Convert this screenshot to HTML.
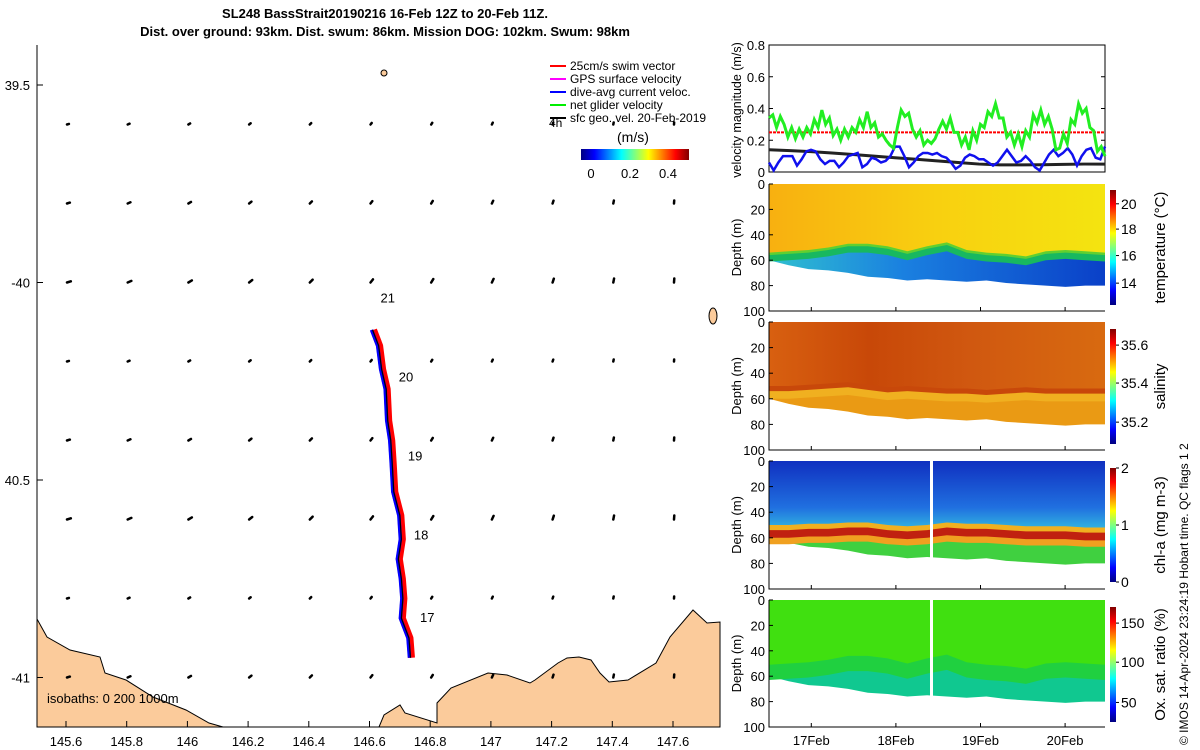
<!DOCTYPE html>
<html><head><meta charset="utf-8">
<style>
body{margin:0;background:#fff;}
svg{display:block;font-family:"Liberation Sans","DejaVu Sans",sans-serif;}
</style></head>
<body>
<svg id="fig" width="1200" height="750" viewBox="0 0 1200 750">
<defs>
<linearGradient id="jetV" x1="0" y1="1" x2="0" y2="0">
<stop offset="0" stop-color="#000080"/><stop offset="0.125" stop-color="#0000ff"/><stop offset="0.375" stop-color="#00ffff"/><stop offset="0.625" stop-color="#ffff00"/><stop offset="0.875" stop-color="#ff0000"/><stop offset="1" stop-color="#800000"/></linearGradient>
<linearGradient id="jetH" x1="0" y1="0" x2="1" y2="0">
<stop offset="0" stop-color="#000080"/><stop offset="0.125" stop-color="#0000ff"/><stop offset="0.375" stop-color="#00ffff"/><stop offset="0.625" stop-color="#ffff00"/><stop offset="0.875" stop-color="#ff0000"/><stop offset="1" stop-color="#800000"/></linearGradient>
<linearGradient id="tempTop" x1="0" y1="0" x2="1" y2="0"><stop offset="0" stop-color="#f8b010"/><stop offset="0.5" stop-color="#f8d010"/><stop offset="1" stop-color="#f4e410"/></linearGradient>
<linearGradient id="tempBot" x1="0" y1="0" x2="1" y2="0"><stop offset="0" stop-color="#30c0d0"/><stop offset="0.4" stop-color="#1a80e0"/><stop offset="1" stop-color="#0a40c8"/></linearGradient>
<linearGradient id="salTop" x1="0" y1="0" x2="1" y2="0"><stop offset="0" stop-color="#d86010"/><stop offset="0.3" stop-color="#c84808"/><stop offset="0.6" stop-color="#d05810"/><stop offset="1" stop-color="#d86a10"/></linearGradient>
<linearGradient id="chlTop" x1="0" y1="0" x2="0" y2="1"><stop offset="0" stop-color="#1030c0"/><stop offset="0.7" stop-color="#2070e0"/><stop offset="1" stop-color="#30b0e0"/></linearGradient>
</defs>
<g id="map"></g>
<g id="right"></g>
<text x="385" y="18" font-size="13" font-weight="bold" text-anchor="middle">SL248 BassStrait20190216 16-Feb 12Z to 20-Feb 11Z.</text>
<text x="385" y="36" font-size="13" font-weight="bold" text-anchor="middle">Dist. over ground: 93km. Dist. swum: 86km. Mission DOG: 102km. Swum: 98km</text>
<text transform="translate(1188,745) rotate(-90)" font-size="12">© IMOS 14-Apr-2024 23:24:19 Hobart time. QC flags 1  2</text>
</svg>
<script>
// ---------- data ----------
const greenVel=[0.34,0.36,0.28,0.35,0.30,0.22,0.28,0.21,0.27,0.22,0.28,0.24,0.33,0.28,0.39,0.30,0.34,0.23,0.27,0.20,0.27,0.22,0.28,0.25,0.33,0.28,0.38,0.28,0.31,0.22,0.24,0.20,0.17,0.15,0.28,0.39,0.35,0.37,0.27,0.22,0.26,0.17,0.20,0.18,0.21,0.27,0.32,0.27,0.34,0.25,0.25,0.17,0.22,0.14,0.26,0.20,0.30,0.28,0.38,0.35,0.43,0.34,0.34,0.22,0.25,0.17,0.24,0.16,0.26,0.22,0.36,0.31,0.39,0.30,0.35,0.27,0.14,0.15,0.24,0.18,0.33,0.30,0.43,0.37,0.40,0.28,0.26,0.13,0.16,0.10];
const blueVel=[0.06,0.01,0.06,0.10,0.10,0.10,0.04,0.08,0.13,0.14,0.13,0.08,0.05,0.07,0.07,0.03,0.06,0.10,0.11,0.12,0.03,0.05,0.09,0.08,0.06,0.07,0.10,0.16,0.16,0.10,0.03,0.06,0.10,0.12,0.12,0.11,0.12,0.10,0.09,0.06,0.02,0.04,0.09,0.11,0.10,0.08,0.08,0.06,0.04,0.06,0.10,0.14,0.10,0.06,0.07,0.10,0.07,0.03,0.01,0.06,0.11,0.14,0.10,0.12,0.15,0.11,0.04,0.10,0.14,0.15,0.09,0.08,0.16];
const geoVel=[0.14,0.135,0.128,0.12,0.11,0.10,0.09,0.08,0.07,0.06,0.05,0.045,0.045,0.046,0.048,0.05,0.05];
const swimVel=0.25;
const velTicks=[0,0.2,0.4,0.6,0.8];
const dayLabels=["17Feb","18Feb","19Feb","20Feb"];
const dayValues=[0.5,1.5,2.5,3.5];
const bottomDepth=[60,64,67,68,70,73,74,76,75,76,77,76,78,79,80,81,80,80];
const thermoDepth=[57,56,55,53,50,50,52,56,52,49,55,57,58,60,56,55,56,57];
const salLayer=[56,56,55,54,53,55,57,56,57,58,58,59,58,57,58,58,58,58];
const chlLayer=[57,57,56,56,55,55,57,58,57,55,56,56,57,58,58,58,59,59];
const depthTicks=[0,20,40,60,80,100];
const lonTicks=[145.6,145.8,146,146.2,146.4,146.6,146.8,147,147.2,147.4,147.6];
const latTicks=[-39.5,-40,-40.5,-41];
const trackLon=[146.61,146.63,146.64,146.655,146.66,146.67,146.675,146.68,146.70,146.705,146.695,146.705,146.71,146.705,146.73,146.735];
const trackLat=[-40.12,-40.16,-40.22,-40.27,-40.35,-40.40,-40.46,-40.53,-40.59,-40.65,-40.70,-40.75,-40.80,-40.85,-40.90,-40.95];
const dayMarkLon=[146.74,146.72,146.7,146.67,146.61];
const dayMarkLat=[-40.86,-40.65,-40.45,-40.25,-40.05];
const dayMarkText=["17","18","19","20","21"];
const vecLon=[145.6,145.8,146,146.2,146.4,146.6,146.8,147,147.2,147.4,147.6];
const vecLat=[-39.6,-39.8,-40,-40.2,-40.4,-40.6,-40.8,-41];

const NS="http://www.w3.org/2000/svg";
function mk(parent,tag,attrs){const e=document.createElementNS(NS,tag);for(const k in attrs)e.setAttribute(k,attrs[k]);parent.appendChild(e);return e;}
function txt(parent,x,y,s,size,anchor,name){const t=mk(parent,'text',{x:x,y:y,'font-size':size,'text-anchor':anchor||'start'});t.textContent=s;


return t;}

// ---------- map ----------
const map=document.getElementById('map');
const lonX=l=>66+(l-145.6)/0.2*60.7;
const latY=l=>85+(-39.5-l)*395;
const land1=[[37,619],[47,637],[70,650],[100,657],[105,673],[126,680],[153,697],[186,710],[209,723],[223,727],[37,727]];
const land2=[[379,727],[384,715],[400,705],[405,713],[437,723],[437,703],[451,688],[488,673],[507,675],[530,683],[535,680],[558,663],[567,658],[579,657],[591,660],[600,673],[609,682],[628,680],[656,663],[670,637],[693,610],[707,623],[720,622],[720,727]];
[land1,land2].forEach((L,i)=>{const p=mk(map,'polygon',{points:L.map(q=>q.join(',')).join(' '),fill:'#fbcb9b',stroke:'#000','stroke-width':1});

});
const isl=mk(map,'ellipse',{cx:713,cy:316,rx:4,ry:8,fill:'#fbcb9b',stroke:'#000','stroke-width':1});


const isl2=mk(map,'ellipse',{cx:384,cy:73,rx:3,ry:3,fill:'#fbcb9b',stroke:'#000','stroke-width':1});


mk(map,'line',{x1:37,y1:45,x2:37,y2:727,stroke:'#000','stroke-width':1});
mk(map,'line',{x1:37,y1:727,x2:720,y2:727,stroke:'#000','stroke-width':1});
lonTicks.forEach(l=>{const x=lonX(l);mk(map,'line',{x1:x,y1:727,x2:x,y2:721,stroke:'#000'});txt(map,x,746,String(l),13,'middle','lon-tick-label');});
latTicks.forEach(l=>{const y=latY(l);mk(map,'line',{x1:37,y1:y,x2:43,y2:y,stroke:'#000'});const s=(l===-39.5||l===-40.5)?String(-l):String(l);txt(map,30,y+5,s,13,'end','lat-tick-label');});
vecLon.forEach((lo,i)=>vecLat.forEach((la,j)=>{const x=lonX(lo)+1,y=latY(la);const len=2+((i*3+j)%3);const ang=-0.3-0.12*i;
const g=mk(map,'line',{x1:x,y1:y,x2:x+len*Math.cos(ang),y2:y+len*Math.sin(ang),stroke:'#000','stroke-width':2.5,'stroke-linecap':'round'});

}));
const tp=trackLon.map((l,i)=>[lonX(l),latY(trackLat[i])]);
const pts=(dx)=>tp.map(p=>(p[0]+dx)+','+p[1]).join(' ');
const tr=mk(map,'polyline',{points:pts(1),fill:'none',stroke:'#ff0000','stroke-width':7,'stroke-linejoin':'round'});


const tb=mk(map,'polyline',{points:pts(-1),fill:'none',stroke:'#0000ff','stroke-width':3.5,'stroke-linejoin':'round'});


const tk=mk(map,'polyline',{points:pts(0),fill:'none',stroke:'#000','stroke-width':1.2});


dayMarkText.forEach((s,i)=>txt(map,lonX(dayMarkLon[i])+8,latY(dayMarkLat[i]),s,13,'start','day-marker'));
txt(map,47,703,'isobaths: 0   200  1000m',13,'start','isobath-note');
const leg=[['#ff0000','25cm/s swim vector'],['#ff00ff','GPS surface velocity'],['#0000ff','dive-avg current veloc.'],['#00ee00','net glider velocity'],['#000000','sfc geo. vel. 20-Feb-2019']];
leg.forEach((e,i)=>{const y=66+i*13;const l=mk(map,'line',{x1:550,y1:y,x2:566,y2:y,stroke:e[0],'stroke-width':2});


txt(map,570,y+4,e[1],12,'start','legend-entry');});
txt(map,549,127,'4h',12,'start','legend-4h');
txt(map,617,142,'(m/s)',14,'start','colorbar-unit');
const cb=mk(map,'rect',{x:581,y:149,width:108,height:11,fill:'url(#jetH)'});


[['0',591],['0.2',630],['0.4',668]].forEach(t=>txt(map,t[1],178,t[0],13,'middle','colorbar-tick'));

// ---------- right panels ----------
const R=document.getElementById('right');
const X0=769,X1=1105;
const dayX=d=>X0+d*84.6;
const VY0=172,VY1=45;
const vy=v=>VY0-(v/0.8)*(VY0-VY1);
mk(R,'rect',{x:X0,y:VY1,width:X1-X0,height:VY0-VY1,fill:'none',stroke:'#000'});
velTicks.forEach(v=>{const y=vy(v);mk(R,'line',{x1:X0,y1:y,x2:X0+4,y2:y,stroke:'#000'});mk(R,'line',{x1:X1,y1:y,x2:X1-4,y2:y,stroke:'#000'});txt(R,X0-4,y+5,String(v),13,'end','velocity-tick');});
const vline=(arr,col,w,name,dash)=>{const p=arr.map((v,i)=>(X0+i*(X1-X0)/(arr.length-1))+','+vy(v)).join(' ');const l=mk(R,'polyline',{points:p,fill:'none',stroke:col,'stroke-width':w});if(dash)l.setAttribute('stroke-dasharray',dash);

};
vline([swimVel,swimVel],'#ff0000',2,'swim-speed-line','3 1');
vline(geoVel,'#222',3,'geo-velocity-line');
vline(blueVel,'#1010ee',2.5,'current-velocity-line');
vline(greenVel,'#22ee22',3,'net-glider-velocity-line');
const vt=txt(R,0,0,'velocity magnitude (m/s)',12.5,'middle','velocity-axis-title');vt.setAttribute('transform','translate(741,110) rotate(-90)');

function depthPanel(top,bot,name,cbTop,cbBot,cbLabel,cbTicks,draw){
  const g=mk(R,'g',{});
  
  
  const dy=d=>top+d/100*(bot-top);
  draw(g,dy);
  mk(g,'polyline',{points:`${X0},${top} ${X0},${bot} ${X1},${bot}`,fill:'none',stroke:'#000'});
  depthTicks.forEach(d=>{const y=dy(d);mk(g,'line',{x1:X0,y1:y,x2:X0+4,y2:y,stroke:'#000'});txt(g,X0-4,y+5,String(d),13,'end','depth-tick');});
  dayValues.forEach(d=>{mk(g,'line',{x1:dayX(d),y1:bot,x2:dayX(d),y2:bot-4,stroke:'#000'});});
  const t=txt(g,0,0,'Depth (m)',13,'middle','depth-axis-title');t.setAttribute('transform',`translate(741,${(top+bot)/2}) rotate(-90)`);
  const c=mk(g,'rect',{x:1110,y:cbTop,width:6,height:cbBot-cbTop,fill:'url(#jetV)'});
  
  
  cbTicks.forEach(t=>{const y=cbBot-t[1]*(cbBot-cbTop);mk(g,'line',{x1:1116,y1:y,x2:1119,y2:y,stroke:'#000'});txt(g,1121,y+5,t[0],14,'start','colorbar-tick');});
  const l=txt(g,0,0,cbLabel,15,'middle','colorbar-label');l.setAttribute('transform',`translate(1165,${(cbTop+cbBot)/2}) rotate(-90)`);
}
const colX=i=>X0+i*(X1-X0)/(bottomDepth.length-1);
function band(g,dy,upper,lower,fill,name){
  const idx=bottomDepth.map((_,i)=>i);
  const up=idx.map(i=>colX(i)+','+dy(upper(i)));
  const lo=idx.slice().reverse().map(i=>colX(i)+','+dy(lower(i)));
  const p=mk(g,'polygon',{points:up.concat(lo).join(' '),fill:fill});
  
  
}
depthPanel(184,311,'temperature-panel',190,305,'temperature (°C)',[['14',0.19],['16',0.43],['18',0.66],['20',0.88]],(g,dy)=>{
  band(g,dy,i=>0,i=>bottomDepth[i],'url(#tempBot)','temp-deep');
  band(g,dy,i=>0,i=>thermoDepth[i]+4,'#18b860','temp-thermocline');
  band(g,dy,i=>0,i=>thermoDepth[i]-1,'#60d030','temp-gradient');
  band(g,dy,i=>0,i=>thermoDepth[i]-3,'url(#tempTop)','temp-surface');
});
depthPanel(322,450,'salinity-panel',329,444,'salinity',[['35.2',0.19],['35.4',0.53],['35.6',0.86]],(g,dy)=>{
  band(g,dy,i=>0,i=>bottomDepth[i],'#ea9a14','sal-deep');
  band(g,dy,i=>0,i=>salLayer[i]+4,'#f0b020','sal-layer');
  band(g,dy,i=>0,i=>salLayer[i]-2,'#c8480a','sal-max');
  band(g,dy,i=>0,i=>salLayer[i]-6,'url(#salTop)','sal-surface');
});
depthPanel(461,589,'chlorophyll-panel',468,582,'chl-a (mg m-3)',[['0',0],['1',0.5],['2',1]],(g,dy)=>{
  band(g,dy,i=>0,i=>bottomDepth[i],'#40d040','chl-deep');
  band(g,dy,i=>0,i=>chlLayer[i]+8,'#f0a020','chl-max-outer');
  band(g,dy,i=>0,i=>chlLayer[i]+3,'#c02010','chl-max');
  band(g,dy,i=>0,i=>chlLayer[i]-3,'#f0b020','chl-upper');
  band(g,dy,i=>0,i=>chlLayer[i]-7,'url(#chlTop)','chl-surface');
  const gap=mk(g,'rect',{x:930,y:dy(0),width:3,height:dy(100)-dy(0),fill:'#fff'});
  
  
});
depthPanel(600,727,'oxygen-panel',607,722,'Ox. sat. ratio (%)',[['50',0.17],['100',0.52],['150',0.86]],(g,dy)=>{
  band(g,dy,i=>0,i=>bottomDepth[i],'#10c890','ox-deep');
  band(g,dy,i=>0,i=>thermoDepth[i]+6,'#20d040','ox-mid');
  band(g,dy,i=>0,i=>thermoDepth[i]-6,'#40e010','ox-surface');
  const gap=mk(g,'rect',{x:930,y:dy(0),width:3,height:dy(100)-dy(0),fill:'#fff'});
  
  
});
dayLabels.forEach((s,i)=>txt(R,dayX(dayValues[i]),745,s,13,'middle','date-tick-label'));
</script>
</body></html>
